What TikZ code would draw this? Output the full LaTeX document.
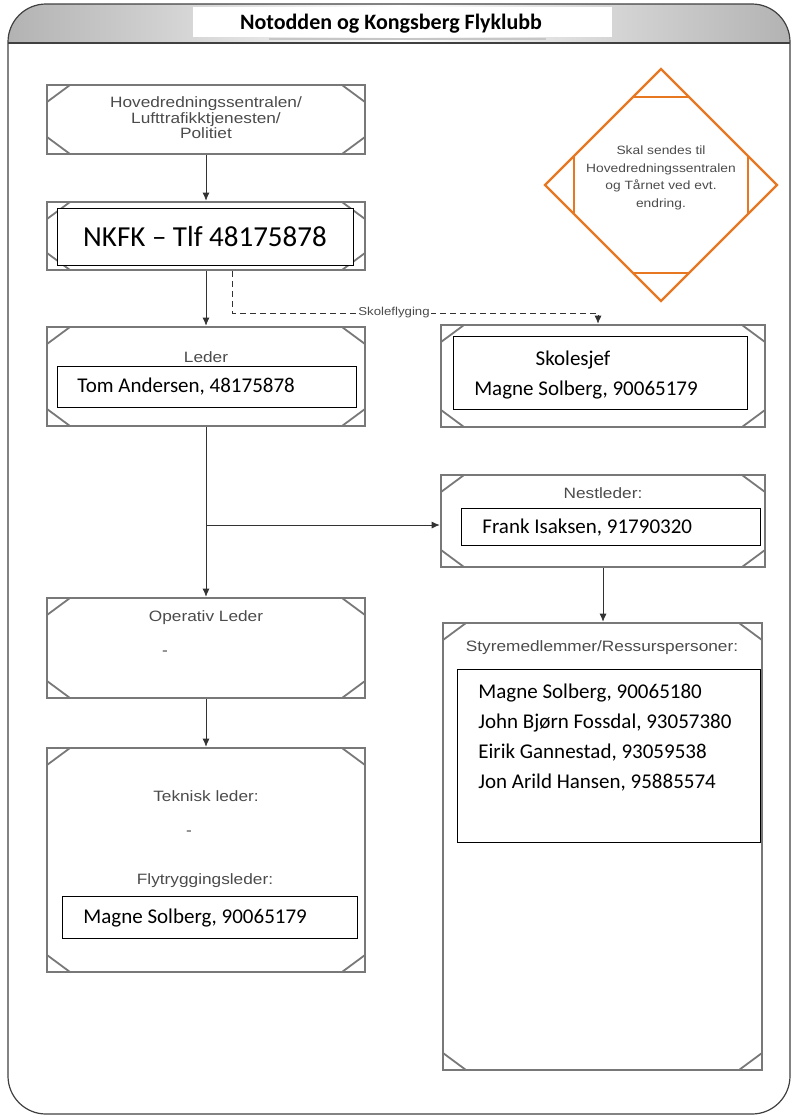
\documentclass[tikz,border=0pt]{standalone}
\usepackage{fontspec}
\setmainfont{Carlito}
\newfontfamily\arialfont[FakeStretch=1.15]{Liberation Sans}
\usetikzlibrary{arrows.meta}
\definecolor{framegray}{RGB}{120,120,120}
\definecolor{labelgray}{RGB}{75,75,75}
\definecolor{noteorange}{RGB}{232,119,34}
\tikzset{
  orgbox/.style={draw=framegray, line width=2.6pt, minimum width=318pt, inner sep=0pt,
    path picture={
      \draw[framegray, line width=1.8pt]
        ([xshift=23pt]path picture bounding box.north west) -- ([yshift=-17pt]path picture bounding box.north west)
        ([xshift=-23pt]path picture bounding box.north east) -- ([yshift=-17pt]path picture bounding box.north east)
        ([xshift=23pt]path picture bounding box.south west) -- ([yshift=17pt]path picture bounding box.south west)
        ([xshift=-23pt]path picture bounding box.south east) -- ([yshift=17pt]path picture bounding box.south east);
    }},
  namebox/.style={draw=black, fill=white, line width=0.8pt, inner sep=0pt},
  boxlabel/.style={font=\arialfont\fontsize{15}{15.5}\selectfont, text=labelgray, align=center},
  person/.style={font=\fontsize{21}{25}\selectfont, anchor=west, inner sep=0pt}
}
\begin{document}
\begin{tikzpicture}[x=1pt, y=-1pt, >={Latex[length=8pt,width=7pt]}, line width=0.8pt]
    \useasboundingbox (0,0) rectangle (796,1117);
    % frame and header
    \begin{scope}
        \clip[rounded corners=38pt] (8,4) rectangle (790,1114);
        \shade[left color=gray!60, right color=gray!60, middle color=white] (8,4) rectangle (790,43);
    \end{scope}
    \draw[gray!50!black, line width=1.2pt, rounded corners=38pt] (8,4) rectangle (790,1114);
    \draw[gray!50!black, line width=1.2pt] (8,43) -- (790,43);
    \node[fill=white, minimum width=419pt, minimum height=30pt, inner sep=0pt] (titlebox) at (402.5,22) {};
    \node[font=\bfseries\fontsize{22}{25}\selectfont] (title) at (391,24) {Notodden og Kongsberg Flyklubb};
    \draw[gray!45, line width=1.5pt] (269,39) -- (546,39);
    % frames
    \begin{scope}[every node/.style={orgbox}]
        \node[minimum height=69pt] (hrs) at (206,119.5) {};
        \node[minimum height=68pt] (nkfk) at (206,236) {};
        \node[minimum height=99pt] (leder) at (206,376.5) {};
        \node[minimum height=100pt] (oper) at (206,648) {};
        \node[minimum height=224pt] (tekn) at (206,860) {};
        \node[minimum width=324pt, minimum height=102pt] (skole) at (603,376) {};
        \node[minimum width=324pt, minimum height=92pt] (nest) at (603,521) {};
        \node[minimum width=319pt, minimum height=447pt] (styre) at (602.5,846.5) {};
    \end{scope}
    % texts
    \node[boxlabel] (hrslabel) at (206,118) {Hovedredningssentralen/\\Lufttrafikktjenesten/\\Politiet};
    \node[namebox, minimum width=296pt, minimum height=57pt, font=\fontsize{29}{34}\selectfont] (nkfkname) at (205,236.5) {NKFK – Tlf 48175878};
    \node[boxlabel] (lederlabel) at (206,357) {Leder};
    \node[namebox, minimum width=299pt, minimum height=41pt] (lederbox) at (206.5,386.5) {};
    \node[person] (ledername) at (77,387) {Tom Andersen, 48175878};
    \node[namebox, minimum width=294pt, minimum height=73pt] (skolebox) at (600,372.5) {};
    \node[person, anchor=center] (skolelabel) at (573,360) {Skolesjef};
    \node[person, anchor=center] (skolename) at (586,390) {Magne Solberg, 90065179};
    \node[boxlabel] (nestlabel) at (603,493) {Nestleder:};
    \node[namebox, minimum width=299pt, minimum height=37pt] (nestbox) at (610.5,526.5) {};
    \node[person] (nestname) at (482,528) {Frank Isaksen, 91790320};
    \node[boxlabel] (operlabel) at (206,618) {Operativ Leder};
    \node[boxlabel] (opername) at (165,653) {-};
    \node[boxlabel] (teknlabel) at (206,796) {Teknisk leder:};
    \node[boxlabel] (teknname) at (189,833) {-};
    \node[boxlabel] (flylabel) at (205,881) {Flytryggingsleder:};
    \node[namebox, minimum width=295pt, minimum height=42pt] (flybox) at (209.5,917) {};
    \node[person] (flyname) at (83,918) {Magne Solberg, 90065179};
    \node[boxlabel] (styrelabel) at (602,648) {Styremedlemmer/Ressurspersoner:};
    \node[namebox, minimum width=303pt, minimum height=173pt] (styrebox) at (608.5,755.5) {};
    \foreach \who [count=\i] in {{Magne Solberg, 90065180},{John Bjørn Fossdal, 93057380},
        {Eirik Gannestad, 93059538},{Jon Arild Hansen, 95885574}}
        \node[person] (member\i) at (478,663+30*\i) {\who};
    % note
    \draw[noteorange, line width=2.2pt] (661,69) -- (777,185) -- (661,301) -- (545,185) -- cycle;
    \draw[noteorange, line width=2.2pt] (633,97) -- (689,97) (633,273) -- (689,273)
        (574,156) -- (574,214) (748,156) -- (748,214);
    \node[font=\arialfont\fontsize{12}{17.5}\selectfont, text=labelgray, align=center] (notetext) at (661,178)
        {Skal sendes til\\Hovedredningssentralen\\og Tårnet ved evt.\\endring.};
    % connectors
    \begin{scope}[draw=black!80]
        \draw[->] (hrs) -- (nkfk);
        \draw[->] (nkfk) -- (leder);
        \coordinate (dashbend) at (598,313);
        \draw[->, dash pattern=on 6pt off 4pt] ([xshift=26pt]nkfk.south) |- (dashbend) -- (dashbend |- skole.north);
        \node[fill=white, inner sep=1pt, font=\arialfont\fontsize{11.5}{12}\selectfont, text=labelgray] (dashlabel) at (394,313) {Skoleflyging};
        \draw[->] (leder) -- (oper);
        \coordinate (branch) at (206,525);
        \draw[->] (branch) -- (branch -| nest.west);
        \draw[->] (oper) -- (tekn);
        \draw[->] (nest.south) -- (nest.south |- styre.north);
    \end{scope}
\end{tikzpicture}
\end{document}
